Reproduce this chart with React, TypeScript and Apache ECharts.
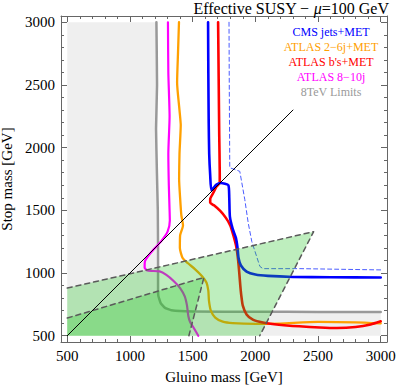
import React, { useEffect, useRef } from "react";
import * as echarts from "echarts";

// ---- axis ticks ----
const majorTicks = [500, 1000, 1500, 2000, 2500, 3000];
const minorTicks = [
  500, 600, 700, 800, 900, 1000, 1100, 1200, 1300, 1400, 1500, 1600, 1700, 1800, 1900,
  2000, 2100, 2200, 2300, 2400, 2500, 2600, 2700, 2800, 2900, 3000,
];

// ---- curves: [gluino mass, stop mass] ----
const cmsJetsMet: number[][] = [
  [1623, 3000], [1625, 2600], [1628, 2200], [1632, 1950], [1640, 1780], [1650, 1660],
  [1690, 1705], [1725, 1718], [1785, 1700], [1792, 1600], [1797, 1450], [1820, 1350],
  [1845, 1280], [1858, 1200], [1866, 1120], [1885, 1060], [1930, 1012], [2000, 988],
  [2100, 977], [2300, 969], [2600, 966], [3000, 965],
];
const cmsExpected: number[][] = [
  [1790, 3000], [1792, 2500], [1795, 2000], [1796, 1840], [1876, 1811], [1916, 1585],
  [1943, 1400], [1972, 1250], [2036, 1053], [2060, 1035], [2355, 1035], [3000, 1025],
];
const atlas26jMet: number[][] = [
  [1391, 3000], [1383, 2750], [1376, 2520], [1395, 2300], [1405, 2180], [1395, 1950],
  [1392, 1750], [1400, 1600], [1410, 1460], [1423, 1380], [1400, 1300], [1398, 1200],
  [1420, 1120], [1460, 1080], [1520, 1030], [1575, 975], [1610, 925], [1625, 860],
  [1630, 780], [1645, 700], [1680, 645], [1740, 612], [1820, 600], [2000, 594],
  [2200, 597], [2500, 610], [2800, 607], [3000, 598],
];
const atlasBsMet: number[][] = [
  [1703, 3000], [1708, 2500], [1712, 2100], [1716, 1800], [1716, 1720], [1690, 1690],
  [1665, 1640], [1640, 1590], [1640, 1560], [1670, 1540], [1720, 1495], [1765, 1440],
  [1800, 1380], [1825, 1300], [1848, 1210], [1862, 1110], [1872, 1000], [1880, 900],
  [1888, 820], [1900, 740], [1930, 670], [1980, 628], [2060, 605], [2169, 590],
  [2350, 575], [2515, 566], [2650, 562], [2800, 570], [2920, 590], [3000, 615],
];
const atlas810j: number[][] = [
  [1303, 3000], [1306, 2600], [1316, 2250], [1306, 1950], [1310, 1700], [1316, 1500],
  [1318, 1420], [1300, 1330], [1250, 1255], [1190, 1190], [1145, 1135], [1120, 1095],
  [1117, 1045], [1140, 1020], [1237, 1013], [1290, 985], [1350, 935], [1400, 880],
  [1437, 814], [1455, 740], [1465, 660], [1480, 610], [1510, 560], [1545, 500],
];
const limits8TeV: number[][] = [
  [1211, 3000], [1216, 2500], [1208, 2150], [1215, 1800], [1222, 1500], [1224, 1200],
  [1224, 900], [1226, 820], [1245, 760], [1280, 722], [1330, 703], [1500, 694],
  [2000, 691], [2500, 690], [3000, 690],
];
const excluded8TeV: number[][] = [[500, 3000], ...limits8TeV, [3000, 500], [500, 500]];
const lambda20Region: number[][] = [[500, 880], [2465, 1330], [2035, 500], [500, 500]];
const lambda100Region: number[][] = [[500, 641], [1590, 965], [1470, 500], [500, 500]];
const diagonal: number[][] = [[500, 500], [2300, 2300]];

const annotations = [
  { name: "Δ≤10", value: [2150, 1157] },
  { name: "(Λ=20TeV)", value: [2149, 1040] },
  { name: "Δ≤10", value: [1251, 687] },
  { name: "(Λ=100TeV)", value: [1251, 572] },
];

const legendItems = [
  { text: "CMS jets+MET", color: "#0000ff" },
  { text: "ATLAS 2−6j+MET", color: "#ffa000" },
  { text: "ATLAS b's+MET", color: "#ff0000" },
  { text: "ATLAS 8−10j", color: "#ff00ff" },
  { text: "8TeV Limits", color: "#999999" },
];

const SERIF = "'Liberation Serif', 'Times New Roman', serif";
const SANS = "'Liberation Sans', Arial, sans-serif";
const FRAME = "#666666";
const GREEN = "rgba(40,200,40,0.3)";

function polygon(points: number[][], fill: string, z: number) {
  return {
    type: "custom",
    z,
    silent: true,
    xAxisIndex: 0,
    yAxisIndex: 0,
    data: [points[0]],
    renderItem: (_p: any, api: any) => ({
      type: "polygon",
      shape: { points: points.map((pt) => api.coord(pt)) },
      style: { fill },
    }),
  };
}

function curve(data: number[][], color: string, width: number, z: number, extra: any = {}) {
  return {
    type: "line",
    data,
    z,
    silent: true,
    showSymbol: false,
    symbol: "none",
    smooth: extra.smooth ?? 0.2,
    lineStyle: { color, width, type: extra.dash ?? "solid", cap: "round", join: "round" },
    xAxisIndex: 0,
    yAxisIndex: 0,
  };
}

function makeAxis(position: string, major: boolean, withLabel: boolean, name?: string, nameGap?: number) {
  const horizontal = position === "bottom" || position === "top";
  return {
    type: "value",
    position,
    min: 450,
    max: 3050,
    splitLine: { show: false },
    axisLine: { show: major, onZero: false, lineStyle: { color: FRAME, width: 1 } },
    axisTick: {
      show: true,
      inside: true,
      length: major ? 6 : 3,
      customValues: major ? majorTicks : minorTicks,
      lineStyle: { color: FRAME, width: 1 },
    },
    axisLabel: {
      show: withLabel,
      customValues: majorTicks,
      formatter: (v: number) => String(v),
      margin: 6,
      fontSize: 15,
      fontFamily: SERIF,
      color: "#000",
    },
    name: name ?? "",
    nameLocation: "middle",
    nameGap: nameGap ?? 0,
    nameRotate: horizontal ? 0 : 90,
    nameTextStyle: { fontSize: 15, fontFamily: SERIF, color: "#000", fontWeight: "normal" },
  };
}

export default function App() {
  const ref = useRef<HTMLDivElement>(null);
  useEffect(() => {
    if (!ref.current) return;
    const chart = echarts.init(ref.current, undefined, { renderer: "svg" });
    const option: any = {
      animation: false,
      backgroundColor: "#ffffff",
      title: {
        text: "Effective SUSY − {it|μ}=100 GeV",
        right: 10,
        top: 0,
        padding: 0,
        textStyle: {
          fontSize: 16,
          fontWeight: "normal",
          fontFamily: SERIF,
          color: "#000",
          rich: { it: { fontStyle: "italic", fontSize: 16, fontFamily: SERIF, color: "#000" } },
        },
      },
      grid: {
        left: 61,
        top: 16,
        width: 326,
        height: 326,
        containLabel: false,
        outerBoundsMode: "none",
      },
      xAxis: [
        makeAxis("bottom", true, true, "Gluino mass [GeV]", 27),
        makeAxis("bottom", false, false),
        makeAxis("top", true, false),
        makeAxis("top", false, false),
      ],
      yAxis: [
        makeAxis("left", true, true, "Stop mass [GeV]", 46),
        makeAxis("left", false, false),
        makeAxis("right", true, false),
        makeAxis("right", false, false),
      ],
      graphic: legendItems.map((it, i) => ({
        type: "text",
        x: 331,
        y: 32 + i * 15,
        z: 100,
        style: {
          text: it.text,
          fill: it.color,
          font: `12px ${SERIF}`,
          align: "center",
          verticalAlign: "middle",
        },
      })),
      series: [
        polygon(excluded8TeV, "#efefef", 1),
        curve(limits8TeV, "#999999", 2.5, 3, { smooth: 0.1 }),
        curve(atlas810j, "#ff00ff", 2.2, 4),
        curve(atlas26jMet, "#ffa000", 2.3, 4),
        curve(atlasBsMet, "#ff0000", 2.6, 4),
        curve(cmsJetsMet, "#0000ff", 2.6, 4),
        curve(cmsExpected, "#4a5cff", 1, 4, { smooth: 0, dash: [4, 3] }),
        polygon(lambda20Region, GREEN, 6),
        polygon(lambda100Region, GREEN, 6),
        curve(lambda20Region.slice(0, 3), "#5a5a5a", 1.5, 7, { smooth: 0, dash: [5, 4] }),
        curve(lambda100Region.slice(0, 3), "#5a5a5a", 1.5, 7, { smooth: 0, dash: [5, 4] }),
        curve(diagonal, "#000000", 1, 8, { smooth: 0 }),
        {
          type: "scatter",
          z: 9,
          silent: true,
          xAxisIndex: 0,
          yAxisIndex: 0,
          symbolSize: 1,
          itemStyle: { opacity: 0 },
          data: annotations,
          label: {
            show: true,
            position: "inside",
            formatter: (p: any) => p.name,
            fontSize: 10,
            fontFamily: SANS,
            color: "#000",
          },
        },
      ],
    };
    chart.setOption(option);
    return () => chart.dispose();
  }, []);
  return (
    <div
      ref={ref}
      style={{ position: "fixed", left: 0, top: 0, width: 399, height: 390 }}
    />
  );
}
